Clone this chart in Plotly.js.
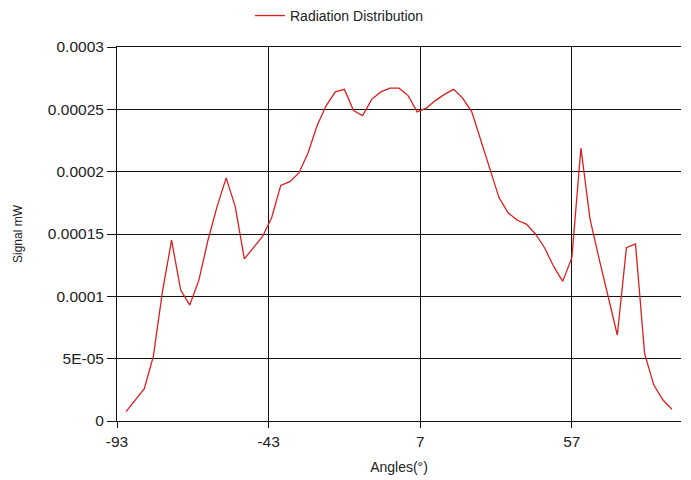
<!DOCTYPE html>
<html>
<head>
<meta charset="utf-8">
<script src="https://cdn.plot.ly/plotly-3.0.1.min.js"></script>
<style>html,body{margin:0;padding:0;background:#fff;}#chart{width:691px;height:480px;}</style>
</head>
<body>
<div id="chart"></div>
<script>
const angles = [-90,-87,-84,-81,-78,-75,-72,-69,-66,-63,-60,-57,-54,-51,-48,-45,-42,-39,-36,-33,-30,-27,-24,-21,-18,-15,-12,-9,-6,-3,0,3,6,9,12,15,18,21,24,27,30,33,36,39,42,45,48,51,54,57,60,63,66,69,72,75,78,81,84,87,90];
const signal = [7.5e-6,1.7e-5,2.6e-5,5.2e-5,1.04e-4,1.45e-4,1.05e-4,9.3e-5,1.13e-4,1.45e-4,1.72e-4,1.95e-4,1.72e-4,1.30e-4,1.39e-4,1.48e-4,1.63e-4,1.89e-4,1.92e-4,1.99e-4,2.15e-4,2.37e-4,2.53e-4,2.64e-4,2.66e-4,2.49e-4,2.45e-4,2.58e-4,2.64e-4,2.67e-4,2.67e-4,2.61e-4,2.48e-4,2.51e-4,2.57e-4,2.62e-4,2.66e-4,2.59e-4,2.48e-4,2.25e-4,2.03e-4,1.79e-4,1.67e-4,1.61e-4,1.58e-4,1.50e-4,1.39e-4,1.24e-4,1.12e-4,1.31e-4,2.19e-4,1.62e-4,1.30e-4,1.00e-4,6.9e-5,1.39e-4,1.42e-4,5.4e-5,2.9e-5,1.7e-5,9.4e-6];
const xTickVals = [-93,-43,7,57];
const xTickText = ["-93","-43","7","57"];
const yTickVals = [0,0.00005,0.0001,0.00015,0.0002,0.00025,0.0003];
const yTickText = ["0","5E-05","0.0001","0.00015","0.0002","0.00025","0.0003"];

const font = "Arial, 'Liberation Sans', sans-serif";
const gridCol = '#111';
Plotly.newPlot('chart', [{
  x: angles, y: signal, type: 'scatter', mode: 'lines',
  name: 'Radiation Distribution',
  line: {color: '#dc1e1e', width: 1.3}
}], {
  width: 691, height: 480,
  margin: {l: 117, r: 10, t: 47, b: 59, autoexpand: false},
  paper_bgcolor: '#fff', plot_bgcolor: '#fff',
  font: {family: font, color: '#222'},
  showlegend: true,
  legend: {orientation: 'h', x: 0.2358, xanchor: 'left', y: 1.083, yanchor: 'middle',
           font: {size: 14, family: font, color: '#222'}, bgcolor: 'rgba(0,0,0,0)'},
  xaxis: {
    range: [-93, 93], tickvals: xTickVals, ticktext: xTickText,
    showgrid: true, gridcolor: gridCol, gridwidth: 1,
    showline: true, linecolor: gridCol, linewidth: 1, mirror: true,
    ticks: 'outside', ticklen: 6, tickcolor: gridCol, tickwidth: 1,
    zeroline: false, tickfont: {size: 15.5, family: font},
    title: {text: 'Angles(°)', font: {size: 14, family: font}, standoff: 13}
  },
  yaxis: {
    range: [0, 0.0003], tickvals: yTickVals, ticktext: yTickText,
    showgrid: true, gridcolor: gridCol, gridwidth: 1,
    showline: true, linecolor: gridCol, linewidth: 1,
    ticks: 'outside', ticklen: 9, tickcolor: gridCol, tickwidth: 1,
    zeroline: false, tickfont: {size: 15.5, family: font},
    title: {text: 'Signal mW', font: {size: 12, family: font}, standoff: 22}
  }
}, {displayModeBar: false, staticPlot: true});
</script>
</body>
</html>
